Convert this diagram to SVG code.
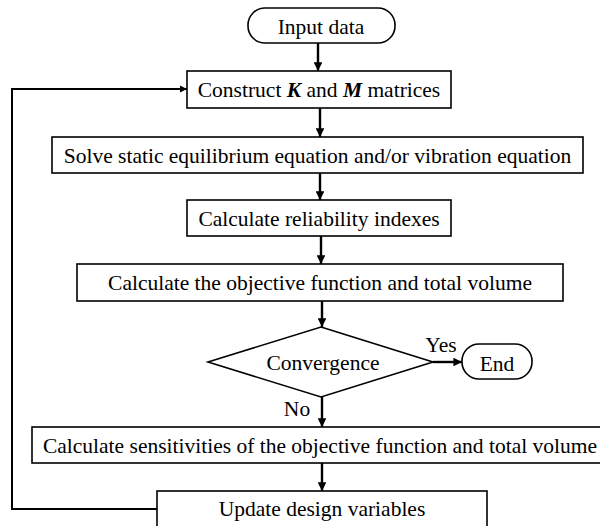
<svg xmlns="http://www.w3.org/2000/svg" width="600" height="526" viewBox="0 0 600 526">
<defs>
<marker id="ah" viewBox="0 0 10 10" refX="10" refY="5" markerWidth="3.6" markerHeight="3.6" orient="auto" markerUnits="strokeWidth">
<path d="M0,0 L10,5 L0,10 z" fill="#000"/>
</marker>
<style>
.box{fill:#fff;stroke:#000;stroke-width:1.6}
.t{font-size:21.5px;fill:#000;text-anchor:middle}
.c{fill:none;stroke:#000;stroke-width:2.4}
</style>
</defs>
<rect width="600" height="526" fill="#fff"/>
<g font-family="Liberation Serif, Times New Roman, serif">
<g id="connectors">
<line class="c" x1="318" y1="43" x2="318" y2="71" marker-end="url(#ah)"/>
<line class="c" x1="320" y1="108" x2="320" y2="137" marker-end="url(#ah)"/>
<line class="c" x1="320" y1="173" x2="320" y2="200" marker-end="url(#ah)"/>
<line class="c" x1="321" y1="236" x2="321" y2="264" marker-end="url(#ah)"/>
<line class="c" x1="322" y1="301" x2="322" y2="327" marker-end="url(#ah)"/>
<line class="c" x1="433" y1="362" x2="462" y2="362" marker-end="url(#ah)"/>
<line class="c" x1="322" y1="397" x2="322" y2="427" marker-end="url(#ah)"/>
<line class="c" x1="322" y1="463" x2="322" y2="491" marker-end="url(#ah)"/>
<polyline class="c" style="stroke-width:2" points="157,509 12,509 12,89 187,89" marker-end="url(#ah)"/>
<text class="t" x="441" y="352">Yes</text>
<text class="t" x="297" y="416">No</text>
</g>
<g id="input">
<rect class="box" x="248" y="8" width="147" height="35" rx="17" ry="17"/>
<text class="t" x="321" y="34">Input data</text>
</g>
<g id="construct">
<rect class="box" x="187" y="71" width="264" height="37"/>
<text class="t" x="319" y="97">Construct <tspan font-weight="bold" font-style="italic">K</tspan> and <tspan font-weight="bold" font-style="italic">M</tspan> matrices</text>
</g>
<g id="solve">
<rect class="box" x="52" y="137" width="531" height="36"/>
<text class="t" x="317.5" y="163">Solve static equilibrium equation and/or vibration equation</text>
</g>
<g id="reliability">
<rect class="box" x="187" y="200" width="264" height="36"/>
<text class="t" x="319" y="226">Calculate reliability indexes</text>
</g>
<g id="objective">
<rect class="box" x="77" y="264" width="486" height="37"/>
<text class="t" x="320" y="290">Calculate the objective function and total volume</text>
</g>
<g id="convergence">
<polygon class="box" points="321,327 433,362 321,397 208,362"/>
<text class="t" x="323" y="370">Convergence</text>
</g>
<g id="end">
<rect class="box" x="462" y="344" width="70" height="35" rx="17" ry="17"/>
<text class="t" x="497" y="371">End</text>
</g>
<g id="sensitivities">
<rect class="box" x="32" y="427" width="580" height="36"/>
<text class="t" x="320" y="453">Calculate sensitivities of the objective function and total volume</text>
</g>
<g id="update">
<rect class="box" x="157" y="491" width="330" height="40"/>
<text class="t" x="322" y="516">Update design variables</text>
</g>
</g>
</svg>
